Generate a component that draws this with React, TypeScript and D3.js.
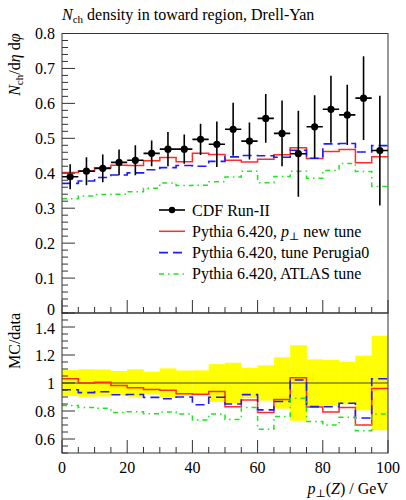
import React from 'react';
import * as d3 from 'd3';

// ---- data ----
const binLow = [0, 5, 10, 15, 20, 25, 30, 35, 40, 45, 50, 55, 60, 65, 70, 75, 80, 85, 90, 95];
const binHigh = [5, 10, 15, 20, 25, 30, 35, 40, 45, 50, 55, 60, 65, 70, 75, 80, 85, 90, 95, 100];
const cdfValues = [0.390, 0.406, 0.414, 0.431, 0.437, 0.457, 0.469, 0.469, 0.497, 0.483,
  0.526, 0.492, 0.557, 0.514, 0.456, 0.533, 0.583, 0.567, 0.615, 0.465];
const cdfErrors = [0.036, 0.040, 0.040, 0.037, 0.043, 0.037, 0.049, 0.042, 0.045, 0.065,
  0.076, 0.053, 0.070, 0.094, 0.123, 0.090, 0.096, 0.086, 0.120, 0.157];
const pythiaNewTune = [0.402, 0.406, 0.416, 0.423, 0.422, 0.436, 0.445, 0.433, 0.457, 0.454,
  0.437, 0.432, 0.440, 0.453, 0.473, 0.442, 0.462, 0.468, 0.430, 0.447];
const pythiaPerugia0 = [0.371, 0.378, 0.388, 0.395, 0.401, 0.410, 0.416, 0.422, 0.420, 0.434,
  0.447, 0.451, 0.450, 0.446, 0.466, 0.443, 0.484, 0.485, 0.461, 0.479];
const pythiaAtlas = [0.327, 0.335, 0.339, 0.340, 0.347, 0.357, 0.372, 0.365, 0.366, 0.376,
  0.389, 0.406, 0.373, 0.391, 0.406, 0.386, 0.408, 0.428, 0.405, 0.362];

const topYTicks = [0, 0.1, 0.2, 0.3, 0.4, 0.5, 0.6, 0.7, 0.8];
const ratioYTicks = [0.6, 0.8, 1.0, 1.2, 1.4];
const ratioYLabels = ['0.6', '0.8', '1', '1.2', '1.4'];
const xTicks = [0, 20, 40, 60, 80, 100];

const legendLabels = ['CDF Run-II', 'new', 'Perugia0', 'ATLAS'];

// ---- layout ----
const W = 406, H = 500;
const L = 62, R = 388;
const topT = 33.5, mid = 313, botB = 453;
const FONT = '"Liberation Serif", "DejaVu Serif", serif';
const FS = 16;

const x = d3.scaleLinear().domain([0, 100]).range([L, R]);
const yTop = d3.scaleLinear().domain([0, 0.8]).range([mid, topT]);
const yRat = d3.scaleLinear().domain([0.5, 1.5]).range([botB, mid]);

const series = [
  { vals: pythiaNewTune, color: '#ff2b2b', dash: null, width: 1.5 },
  { vals: pythiaPerugia0, color: '#1c1cff', dash: '9,5', width: 1.6 },
  { vals: pythiaAtlas, color: '#1de61d', dash: '5,4,1.5,4', width: 1.5 },
];

function stepPath(vals: number[], y: d3.ScaleLinear<number, number>) {
  const pts: [number, number][] = [];
  vals.forEach((v, i) => {
    pts.push([binLow[i], v]);
    pts.push([binHigh[i], v]);
  });
  return d3.line<[number, number]>().x(d => x(d[0])).y(d => y(d[1]))(pts) || '';
}

function minorRange(a: number, b: number, s: number) {
  const out: number[] = [];
  const n = Math.round((b - a) / s);
  for (let i = 0; i <= n; i++) out.push(a + i * s);
  return out;
}

export default function App() {
  const axisColor = '#333';
  const topMinor = minorRange(0, 0.8, 0.02);
  const ratMinor = minorRange(0.5, 1.5, 0.05);
  const xMinor = minorRange(0, 100, 5);
  const isMajorX = (v: number) => Math.abs(v / 20 - Math.round(v / 20)) < 1e-6;
  const isMajorTop = (v: number) => Math.abs(v / 0.1 - Math.round(v / 0.1)) < 1e-6;
  const isMajorRat = (v: number) => Math.abs((v - 0.6) / 0.2 - Math.round((v - 0.6) / 0.2)) < 1e-6;

  return (
    <div style={{ position: 'fixed', left: 0, top: 0 }}>
      <svg width={W} height={H} fontFamily={FONT} fontSize={FS} style={{ display: 'block', background: '#fff' }}>
        <defs>
          <clipPath id="clipTop"><rect x={L} y={topT} width={R - L} height={mid - topT} /></clipPath>
          <clipPath id="clipRat"><rect x={L} y={mid} width={R - L} height={botB - mid} /></clipPath>
        </defs>

        {/* title */}
        <text x={L} y={20}>
          <tspan fontStyle="italic">N</tspan>
          <tspan fontSize={11} dy={3}>ch</tspan>
          <tspan dy={-3}> density in toward region, Drell-Yan</tspan>
        </text>

        {/* ---- top panel ---- */}
        <g clipPath="url(#clipTop)">
          {series.map((s, k) => (
            <path key={k} d={stepPath(s.vals, yTop)} fill="none" stroke={s.color}
              strokeWidth={s.width} strokeDasharray={s.dash || undefined} />
          ))}
          {cdfValues.map((v, i) => {
            const cx = x((binLow[i] + binHigh[i]) / 2);
            return (
              <g key={i} stroke="#000" strokeWidth={1.6}>
                <line x1={x(binLow[i])} x2={x(binHigh[i])} y1={yTop(v)} y2={yTop(v)} />
                <line x1={cx} x2={cx} y1={yTop(v - cdfErrors[i])} y2={yTop(v + cdfErrors[i])} />
                <circle cx={cx} cy={yTop(v)} r={3.6} fill="#000" stroke="none" />
              </g>
            );
          })}
        </g>

        {/* legend */}
        <g>
          {legendLabels.map((lab, i) => {
            const ly = 210 + i * 21.3;
            const x1 = 159, x2 = 185;
            let sym;
            if (i === 0) {
              sym = (
                <g>
                  <line x1={x1} x2={x2} y1={ly} y2={ly} stroke="#000" strokeWidth={1.6} />
                  <circle cx={(x1 + x2) / 2} cy={ly} r={3.2} fill="#000" />
                </g>
              );
            } else {
              const s = series[i - 1];
              sym = <line x1={x1} x2={x2} y1={ly} y2={ly} stroke={s.color} strokeWidth={s.width}
                strokeDasharray={s.dash || undefined} />;
            }
            let txt;
            if (i === 0) txt = <text x={192} y={ly + 5.5}>CDF Run-II</text>;
            else if (i === 1) txt = (
              <text x={192} y={ly + 5.5}>Pythia 6.420, <tspan fontStyle="italic">p</tspan>
                <tspan fontSize={11} dy={3}>⊥</tspan><tspan dy={-3}> new tune</tspan></text>
            );
            else if (i === 2) txt = <text x={192} y={ly + 5.5}>Pythia 6.420, tune Perugia0</text>;
            else txt = <text x={192} y={ly + 5.5}>Pythia 6.420, ATLAS tune</text>;
            return <g key={i}>{sym}{txt}</g>;
          })}
        </g>

        {/* ---- ratio panel ---- */}
        <g clipPath="url(#clipRat)">
          {cdfValues.map((v, i) => {
            const r = cdfErrors[i] / v;
            return <rect key={i} x={x(binLow[i])} width={x(binHigh[i]) - x(binLow[i]) + 0.3}
              y={yRat(1 + r)} height={yRat(1 - r) - yRat(1 + r)} fill="#ffff00" />;
          })}
          <line x1={L} x2={R} y1={yRat(1)} y2={yRat(1)} stroke="#444" strokeWidth={1} />
          {series.map((s, k) => (
            <path key={k} d={stepPath(s.vals.map((m, i) => m / cdfValues[i]), yRat)} fill="none"
              stroke={s.color} strokeWidth={s.width} strokeDasharray={s.dash || undefined} />
          ))}
        </g>

        {/* frames */}
        <rect x={L} y={topT} width={R - L} height={mid - topT} fill="none" stroke={axisColor} strokeWidth={1} />
        <rect x={L} y={mid} width={R - L} height={botB - mid} fill="none" stroke={axisColor} strokeWidth={1} />

        {/* top y ticks */}
        {topMinor.map((v, i) => (
          <line key={'ty' + i} x1={L} x2={L + (isMajorTop(v) ? 13 : 6)} y1={yTop(v)} y2={yTop(v)}
            stroke={axisColor} strokeWidth={1} />
        ))}
        {topYTicks.map((v, i) => (
          <text key={'tyl' + i} x={55} y={yTop(v) + (v === 0 ? 1.5 : 5.5)} textAnchor="end">{v === 0 ? '0' : d3.format('.1f')(v)}</text>
        ))}

        {/* ratio y ticks */}
        {ratMinor.map((v, i) => (
          <line key={'ry' + i} x1={L} x2={L + (isMajorRat(v) ? 13 : 6)} y1={yRat(v)} y2={yRat(v)}
            stroke={axisColor} strokeWidth={1} />
        ))}
        {ratioYTicks.map((v, i) => (
          <text key={'ryl' + i} x={55} y={yRat(v) + (i === ratioYTicks.length - 1 ? 6.5 : 5.5)} textAnchor="end">{ratioYLabels[i]}</text>
        ))}

        {/* x ticks on both panels */}
        {xMinor.map((v, i) => (
          <g key={'x' + i} stroke={axisColor} strokeWidth={1}>
            <line x1={x(v)} x2={x(v)} y1={mid} y2={mid - (isMajorX(v) ? 13 : 6)} />
            <line x1={x(v)} x2={x(v)} y1={botB} y2={botB - (isMajorX(v) ? 13 : 6)} />
          </g>
        ))}
        {xTicks.map((v, i) => (
          <text key={'xl' + i} x={x(v)} y={473} textAnchor="middle">{v}</text>
        ))}

        {/* axis labels */}
        <text transform={`translate(20,${topT}) rotate(-90)`} textAnchor="end">
          <tspan fontStyle="italic">N</tspan>
          <tspan fontSize={11} dy={3}>ch</tspan>
          <tspan dy={-3}>/d</tspan>
          <tspan fontStyle="italic">η</tspan>
          <tspan> d</tspan>
          <tspan fontStyle="italic">φ</tspan>
        </text>
        <text transform={`translate(20,${mid}) rotate(-90)`} textAnchor="end">MC/data</text>
        <text x={R} y={494} textAnchor="end">
          <tspan fontStyle="italic">p</tspan>
          <tspan fontSize={11} dy={3}>⊥</tspan>
          <tspan dy={-3}>(</tspan>
          <tspan fontStyle="italic">Z</tspan>
          <tspan>) / GeV</tspan>
        </text>
      </svg>
    </div>
  );
}
